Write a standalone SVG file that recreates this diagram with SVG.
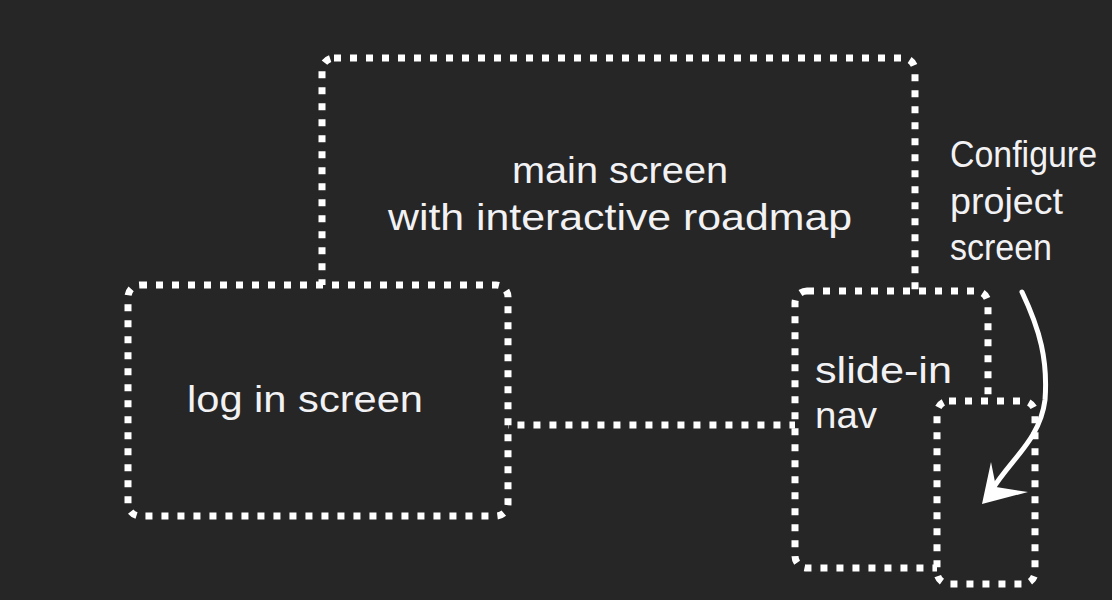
<svg xmlns="http://www.w3.org/2000/svg" width="1112" height="600" viewBox="0 0 1112 600">
<style>
.box{fill:#262626;stroke:#ffffff;stroke-width:7;stroke-dasharray:7 9}
.lbl{fill:#f2f2f4;font-family:"Liberation Sans",Arial,sans-serif;font-size:36px}
</style>
<rect x="0" y="0" width="1112" height="600" fill="#262626"/>
<g id="main-screen">
<rect class="box" x="322" y="58" width="593" height="367" rx="12"/>
<text class="lbl" x="620" y="183" text-anchor="middle" textLength="216" lengthAdjust="spacingAndGlyphs">main screen</text>
<text class="lbl" x="620" y="230" text-anchor="middle" textLength="464" lengthAdjust="spacingAndGlyphs">with interactive roadmap</text>
</g>
<g id="log-in-screen">
<rect class="box" x="128" y="285" width="380" height="231" rx="12"/>
<text class="lbl" x="187" y="412" textLength="236" lengthAdjust="spacingAndGlyphs">log in screen</text>
</g>
<g id="slide-in-nav">
<rect class="box" x="795" y="291" width="193" height="277" rx="12"/>
<text class="lbl" x="815" y="383" textLength="137" lengthAdjust="spacingAndGlyphs">slide-in</text>
<text class="lbl" x="815" y="428" textLength="62" lengthAdjust="spacingAndGlyphs">nav</text>
</g>
<g id="configure-project-screen">
<rect class="box" x="937" y="401" width="98" height="183" rx="12"/>
<text class="lbl" x="950" y="167" textLength="147" lengthAdjust="spacingAndGlyphs">Configure</text>
<text class="lbl" x="950" y="214" textLength="113" lengthAdjust="spacingAndGlyphs">project</text>
<text class="lbl" x="950" y="260" textLength="102" lengthAdjust="spacingAndGlyphs">screen</text>
</g>
<g id="connectors">
<path d="M1022,292 C1040,330 1048,360 1045,400 C1040,440 1010,460 992,490" fill="none" stroke="#ffffff" stroke-width="5" stroke-linecap="round"/>
<polygon points="982,504 991,462 996,487 1028,492" fill="#ffffff"/>
</g>
</svg>
